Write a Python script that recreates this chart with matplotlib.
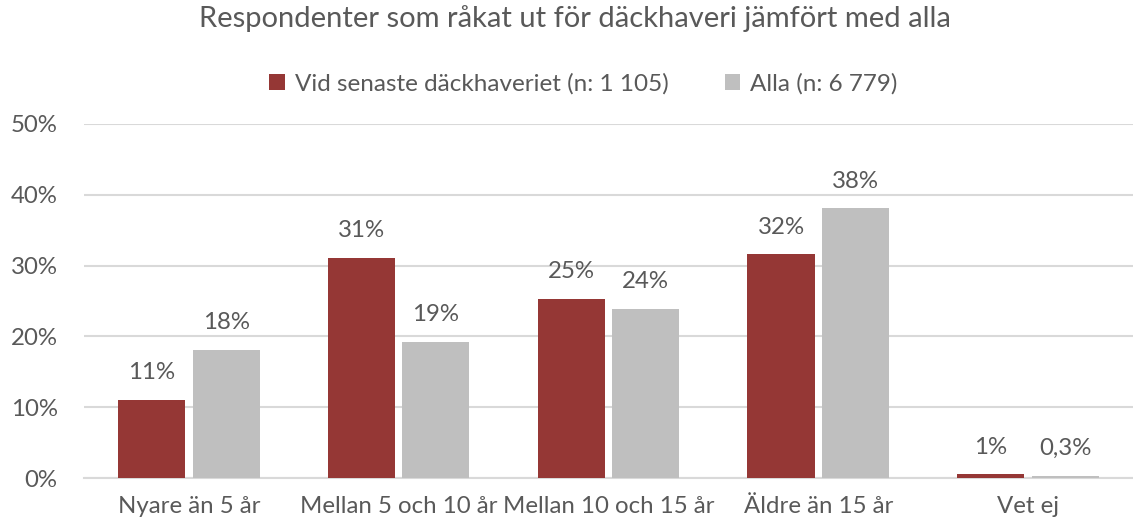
import numpy as np
import matplotlib.pyplot as plt

categories = ["Nyare än 5 år", "Mellan 5 och 10 år", "Mellan 10 och 15 år", "Äldre än 15 år", "Vet ej"]
senaste = [11.0, 31.1, 25.3, 31.6, 0.5]
alla = [18.1, 19.2, 23.9, 38.1, 0.3]
senaste_labels = ["11%", "31%", "25%", "32%", "1%"]
alla_labels = ["18%", "19%", "24%", "38%", "0,3%"]

red = "#953735"
grey = "#BFBFBF"
txt = "#595959"

plt.rcParams['font.family'] = ['Lato', 'DejaVu Sans']

fig = plt.figure(figsize=(11.33, 5.25), dpi=100)
ax = fig.add_axes([0.0741, 0.0895, 0.9259, 0.6745])

x = np.arange(len(categories))
w = 0.32
gap = 0.035
b1 = ax.bar(x - (w + gap) / 2, senaste, w, color=red, label="Vid senaste däckhaveriet (n: 1 105)", zorder=3)
b2 = ax.bar(x + (w + gap) / 2, alla, w, color=grey, label="Alla (n: 6 779)", zorder=3)

for bars, labs in [(b1, senaste_labels), (b2, alla_labels)]:
    for bar, lab in zip(bars, labs):
        ax.annotate(lab, (bar.get_x() + bar.get_width() / 2, bar.get_height()),
                    xytext=(0, 12), textcoords="offset points", ha="center", va="bottom",
                    fontsize=17.3, color=txt)

ax.set_ylim(0, 50)
ax.set_xlim(-0.5, len(categories) - 0.5)
ax.set_yticks(range(0, 51, 10))
ax.set_yticklabels([f"{v}%" for v in range(0, 51, 10)])
ax.set_xticks(x)
ax.set_xticklabels(categories)
ax.tick_params(axis="both", length=0, labelsize=17.3, colors=txt)
ax.tick_params(axis="x", pad=13)
ax.tick_params(axis="y", pad=19)
ax.grid(axis="y", color="#D9D9D9", linewidth=1.5, zorder=0)
for s in ["top", "right", "left"]:
    ax.spines[s].set_visible(False)
ax.spines["bottom"].set_color("#D9D9D9")
ax.spines["bottom"].set_linewidth(1.5)

fig.suptitle("Respondenter som råkat ut för däckhaveri jämfört med alla", x=0.5075, y=0.99,
             fontsize=21, color=txt)
fig.legend(loc="center", bbox_to_anchor=(0.515, 0.84), ncol=2, frameon=False,
           fontsize=17.5, labelcolor=txt, handlelength=0.65, handleheight=0.65,
           handletextpad=0.4, columnspacing=2.3)

fig.savefig("out.png", dpi=100)
